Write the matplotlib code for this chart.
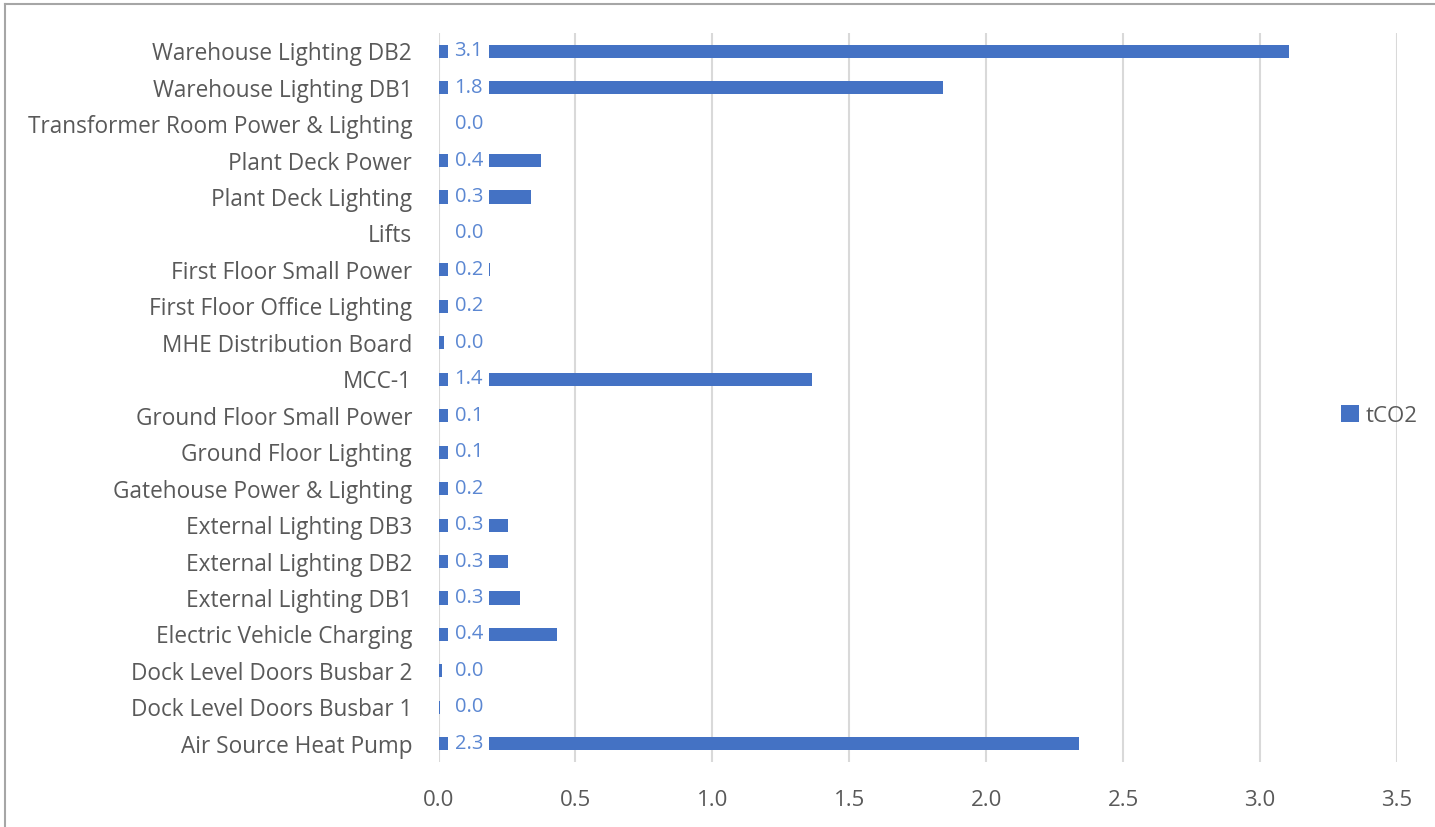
import matplotlib.pyplot as plt
from matplotlib.lines import Line2D

# tCO2 per distribution board (bottom to top)
categories = [
    "Air Source Heat Pump",
    "Dock Level Doors Busbar 1",
    "Dock Level Doors Busbar 2",
    "Electric Vehicle Charging",
    "External Lighting DB1",
    "External Lighting DB2",
    "External Lighting DB3",
    "Gatehouse Power & Lighting",
    "Ground Floor Lighting",
    "Ground Floor Small Power",
    "MCC-1",
    "MHE Distribution Board",
    "First Floor Office Lighting",
    "First Floor Small Power",
    "Lifts",
    "Plant Deck Lighting",
    "Plant Deck Power",
    "Transformer Room Power & Lighting",
    "Warehouse Lighting DB1",
    "Warehouse Lighting DB2",
]
tco2 = [2.34, 0.005, 0.014, 0.433, 0.297, 0.253, 0.255, 0.16, 0.09, 0.12,
        1.363, 0.02, 0.17, 0.189, 0.003, 0.339, 0.373, 0.0, 1.841, 3.105]

bar_col = "#4472C4"
lab_col = "#5B87D2"
txt_col = "#595959"
grid_col = "#D9D9D9"

plt.rcParams["font.family"] = ["Open Sans", "DejaVu Sans"]

fig = plt.figure(figsize=(14.35, 8.27), dpi=100)
ax = fig.add_axes([0.3056, 0.0786, 0.6679, 0.8815])

y = list(range(len(categories)))
ax.barh(y, tco2, height=0.36, color=bar_col, label="tCO2", zorder=2)

# data labels sit at the bar base on a white box
for yi, v in zip(y, tco2):
    ax.annotate(f"{v:.1f}", xy=(0, yi), xytext=(11.5, 0), textcoords="offset points",
                ha="left", va="center", color=lab_col, fontsize=14.5, zorder=3,
                bbox=dict(boxstyle="square,pad=0.3", fc="white", ec="none"))

ax.set_xlim(0, 3.5)
ax.set_ylim(-0.5, len(categories) - 0.5)
ax.set_xticks([0, 0.5, 1.0, 1.5, 2.0, 2.5, 3.0, 3.5])
ax.set_xticklabels([f"{t:.1f}" for t in ax.get_xticks()])
ax.set_yticks(y)
ax.set_yticklabels(categories)
ax.tick_params(axis="y", length=0, pad=19, labelsize=16.3, labelcolor=txt_col)
ax.tick_params(axis="x", length=0, pad=20, labelsize=16, labelcolor=txt_col)
ax.grid(axis="x", color=grid_col, linewidth=1.5, zorder=0)
ax.set_axisbelow(True)
for s in ax.spines.values():
    s.set_visible(False)

leg = ax.legend(loc="center left", bbox_to_anchor=(0.9416, 0.4746), frameon=False,
                fontsize=16, handlelength=0.8, handleheight=0.8, handletextpad=0.3,
                borderpad=0, borderaxespad=0)
for t in leg.get_texts():
    t.set_color(txt_col)

# outer chart border
fig.add_artist(Line2D([5 / 1435, 1], [1 - 4 / 827, 1 - 4 / 827], color="#A6A6A6", lw=1.5))
fig.add_artist(Line2D([5 / 1435, 5 / 1435], [0, 1 - 4 / 827], color="#A6A6A6", lw=1.5))

fig.savefig("out.png", dpi=100)
